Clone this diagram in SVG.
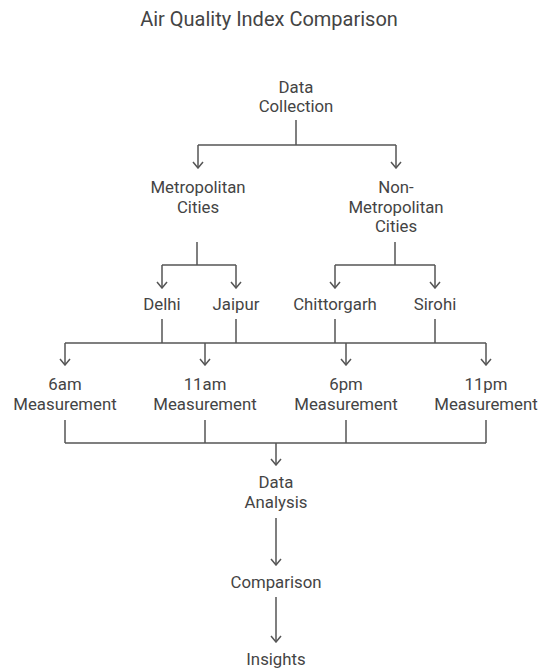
<svg xmlns="http://www.w3.org/2000/svg" width="538" height="670" viewBox="0 0 538 670">
<defs>
<marker id="ah" viewBox="0 0 8 12" refX="7" refY="6" markerWidth="8" markerHeight="12" markerUnits="userSpaceOnUse" orient="auto">
<path d="M1,1 L7,6 L1,11" fill="none" stroke="#555" stroke-width="1.5"/>
</marker>
<style>
text{font-family:Roboto,"Liberation Sans",sans-serif;font-size:16.8px;fill:#444;text-anchor:middle}
.t{font-size:20px}
.c path{fill:none;stroke:#555;stroke-width:1.5}
.c path.a{marker-end:url(#ah)}
</style>
</defs>
<rect width="538" height="670" fill="#fff"/>
<text class="t" x="269" y="26">Air Quality Index Comparison</text>
<g class="c" id="connectors">
<path d="M296,120 V145 M198,145 H396"/>
<path class="a" d="M198,145 V168"/>
<path class="a" d="M396,145 V168"/>
<path d="M197,242 V265 M162,265 H236"/>
<path class="a" d="M162,265 V288"/>
<path class="a" d="M236,265 V288"/>
<path d="M395,242 V265 M335,265 H435"/>
<path class="a" d="M335,265 V288"/>
<path class="a" d="M435,265 V288"/>
<path d="M162,319 V343 M236,319 V343 M335,319 V343 M435,319 V343 M65,343 H486"/>
<path class="a" d="M65,343 V365"/>
<path class="a" d="M205,343 V365"/>
<path class="a" d="M346,343 V365"/>
<path class="a" d="M486,343 V365"/>
<path d="M65,420 V443 M205,420 V443 M346,420 V443 M486,420 V443 M65,443 H486"/>
<path class="a" d="M276,443 V465"/>
<path class="a" d="M276,518 V565"/>
<path class="a" d="M276,597 V642"/>
</g>
<g id="data-collection"><text x="296" y="93">Data</text><text x="296" y="112">Collection</text></g>
<g id="metro"><text x="198" y="193">Metropolitan</text><text x="198" y="213">Cities</text></g>
<g id="nonmetro"><text x="396" y="193">Non-</text><text x="396" y="213">Metropolitan</text><text x="396" y="232">Cities</text></g>
<g id="delhi"><text x="162" y="310">Delhi</text></g>
<g id="jaipur"><text x="236" y="310">Jaipur</text></g>
<g id="chittorgarh"><text x="335" y="310">Chittorgarh</text></g>
<g id="sirohi"><text x="435" y="310">Sirohi</text></g>
<g id="m6am"><text x="65" y="390">6am</text><text x="65" y="410">Measurement</text></g>
<g id="m11am"><text x="205" y="390">11am</text><text x="205" y="410">Measurement</text></g>
<g id="m6pm"><text x="346" y="390">6pm</text><text x="346" y="410">Measurement</text></g>
<g id="m11pm"><text x="486" y="390">11pm</text><text x="486" y="410">Measurement</text></g>
<g id="analysis"><text x="276" y="488">Data</text><text x="276" y="508">Analysis</text></g>
<g id="comparison"><text x="276" y="588">Comparison</text></g>
<g id="insights"><text x="276" y="665">Insights</text></g>
</svg>
